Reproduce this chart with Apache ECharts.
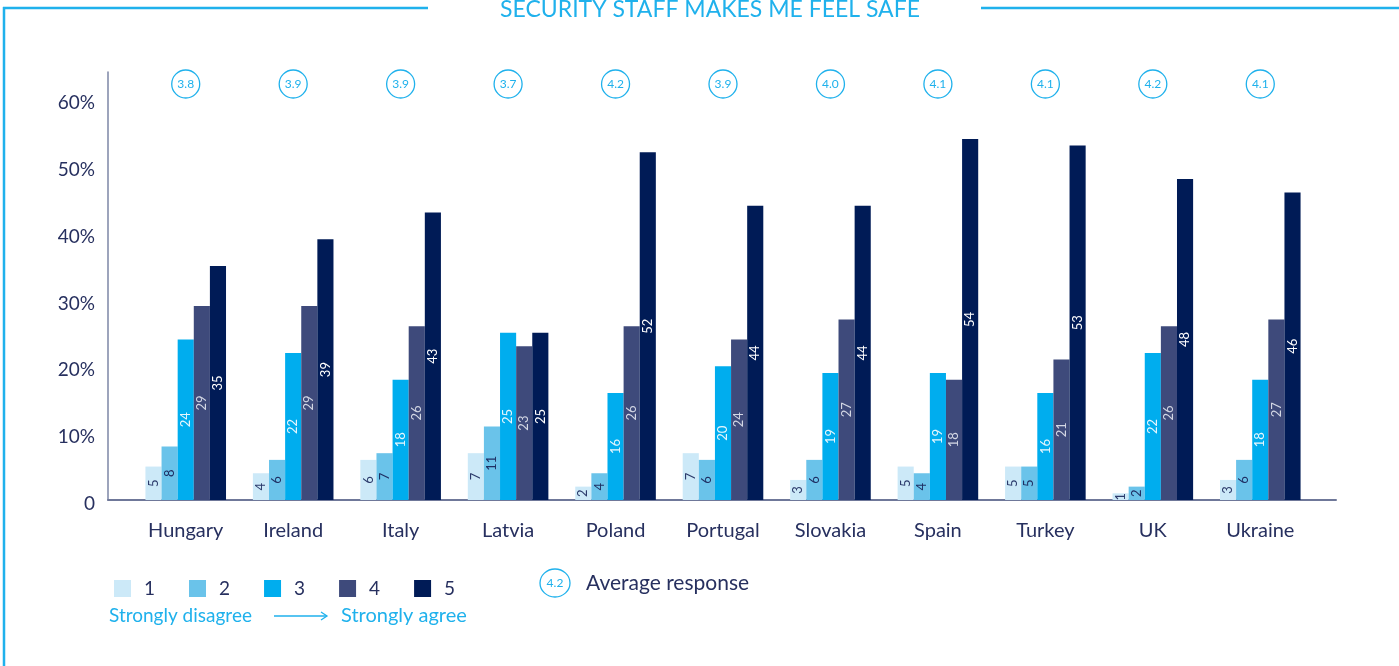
<!DOCTYPE html>
<html>
<head>
<meta charset="utf-8">
<script src="https://cdn.jsdelivr.net/npm/echarts@6/dist/echarts.min.js"></script>
<style>
  html, body { margin: 0; padding: 0; background: #fff; }
  #chart { width: 1399px; height: 666px; }
</style>
</head>
<body>
<div id="chart"></div>
<script>
// categories and values
const countries = ['Hungary', 'Ireland', 'Italy', 'Latvia', 'Poland', 'Portugal', 'Slovakia', 'Spain', 'Turkey', 'UK', 'Ukraine']
const answer1 = [5, 4, 6, 7, 2, 7, 3, 5, 5, 1, 3]
const answer2 = [8, 6, 7, 11, 4, 6, 6, 4, 5, 2, 6]
const answer3 = [24, 22, 18, 25, 16, 20, 19, 19, 16, 22, 18]
const answer4 = [29, 29, 26, 23, 26, 24, 27, 18, 21, 26, 27]
const answer5 = [35, 39, 43, 25, 52, 44, 44, 54, 53, 48, 46]
const averages = ['3.8', '3.9', '3.9', '3.7', '4.2', '3.9', '4.0', '4.1', '4.1', '4.2', '4.1']
const yTicks = [0, 10, 20, 30, 40, 50, 60]

const FONT = 'Lato, "Open Sans", sans-serif'
const NAVY = '#27305f'
const CYAN = '#1fb1ec'
const colors = ['#cce9f8', '#6ac3ea', '#00adee', '#3e4a7b', '#001b56']
const labelColors = ['#2b3a6b', '#1f2f63', '#e6f6fd', '#d3d7e4', '#ffffff']

const chart = echarts.init(document.getElementById('chart'))

function barSeries(name, data, i) {
  return {
    name: name,
    type: 'bar',
    xAxisIndex: 0,
    yAxisIndex: 0,
    data: data,
    barGap: '0%',
    barCategoryGap: '25%',
    itemStyle: { color: colors[i] },
    label: {
      show: true,
      position: 'inside',
      rotate: 90,
      fontFamily: FONT,
      fontSize: 13,
      color: labelColors[i]
    }
  }
}

chart.setOption({
  animation: false,
  color: colors,
  grid: [
    // axis lines frame
    { left: 108, right: 63, top: 72, bottom: 166 },
    // bars
    { left: 132, right: 85, top: 72, bottom: 166 }
  ],
  legend: {
    left: 109,
    top: 574,
    icon: 'rect',
    itemWidth: 17,
    itemHeight: 17,
    itemGap: 34,
    textStyle: { fontFamily: FONT, fontSize: 19, color: NAVY, padding: [0, 0, 0, 8] },
    data: ['1', '2', '3', '4', '5']
  },
  xAxis: [
    {
      type: 'category',
      gridIndex: 1,
      data: countries,
      axisLine: { show: false },
      axisTick: { show: false },
      axisLabel: { margin: 21, fontFamily: FONT, fontSize: 20, color: NAVY }
    },
    {
      type: 'category',
      gridIndex: 1,
      position: 'top',
      offset: -26,
      data: countries,
      axisLine: { show: false },
      axisTick: { show: false },
      axisLabel: {
        margin: 0,
        formatter: (v, idx) => '{c|' + averages[idx] + '}',
        rich: {
          c: {
            fontFamily: FONT,
            fontSize: 12,
            color: CYAN,
            width: 16,
            height: 12,
            align: 'center',
            padding: [8, 6],
            borderColor: CYAN,
            borderWidth: 1.3,
            borderRadius: 15
          }
        }
      }
    },
    {
      type: 'value',
      gridIndex: 0,
      min: 0,
      max: 1,
      axisLine: { show: true, lineStyle: { color: '#6f7899', width: 2 } },
      axisTick: { show: false },
      axisLabel: { show: false },
      splitLine: { show: false }
    }
  ],
  yAxis: [
    {
      type: 'value',
      gridIndex: 1,
      min: 0,
      max: 64,
      show: false
    },
    {
      type: 'value',
      gridIndex: 0,
      min: 0,
      max: 64,
      interval: 10,
      axisLine: { show: true, lineStyle: { color: '#7d86a6', width: 1.5 } },
      axisTick: { show: false },
      splitLine: { show: false },
      axisLabel: {
        margin: 13,
        formatter: v => (yTicks.indexOf(v) < 0 ? '' : '{t|' + (v === 0 ? '0' : v + '%') + '}'),
        rich: {
          t: {
            fontFamily: FONT,
            fontSize: 19,
            color: NAVY,
            padding: [8, 0, 0, 0]
          }
        }
      }
    }
  ],
  series: [
    barSeries('1', answer1, 0),
    barSeries('2', answer2, 1),
    barSeries('3', answer3, 2),
    barSeries('4', answer4, 3),
    barSeries('5', answer5, 4)
  ],
  graphic: [
    // frame lines and title
    { type: 'line', shape: { x1: 3, y1: 8, x2: 428, y2: 8 }, style: { stroke: CYAN, lineWidth: 2.5 } },
    { type: 'line', shape: { x1: 981, y1: 8, x2: 1399, y2: 8 }, style: { stroke: CYAN, lineWidth: 2.5 } },
    { type: 'line', shape: { x1: 4, y1: 7, x2: 4, y2: 666 }, style: { stroke: CYAN, lineWidth: 2.5 } },
    {
      type: 'text', x: 710, y: 10,
      style: { text: 'SECURITY STAFF MAKES ME FEEL SAFE', fill: CYAN, font: '23px ' + FONT, textAlign: 'center', textVerticalAlign: 'middle' }
    },
    // average response key
    { type: 'ellipse', shape: { cx: 555, cy: 583, rx: 15, ry: 14 }, style: { fill: 'none', stroke: CYAN, lineWidth: 1.3 } },
    {
      type: 'text', x: 555, y: 583,
      style: { text: '4.2', fill: CYAN, font: '12px ' + FONT, textAlign: 'center', textVerticalAlign: 'middle' }
    },
    {
      type: 'text', x: 586, y: 583,
      style: { text: 'Average response', fill: NAVY, font: '21px ' + FONT, textVerticalAlign: 'middle' }
    },
    // scale direction
    {
      type: 'text', x: 109, y: 616,
      style: { text: 'Strongly disagree', fill: CYAN, font: '19px ' + FONT, textVerticalAlign: 'middle' }
    },
    { type: 'line', shape: { x1: 274, y1: 616, x2: 327, y2: 616 }, style: { stroke: CYAN, lineWidth: 1.3 } },
    { type: 'polyline', shape: { points: [[321, 612], [327, 616], [321, 620]] }, style: { stroke: CYAN, fill: 'none', lineWidth: 1.3 } },
    {
      type: 'text', x: 341, y: 616,
      style: { text: 'Strongly agree', fill: CYAN, font: '20px ' + FONT, textVerticalAlign: 'middle' }
    }
  ]
})
</script>
</body>
</html>
